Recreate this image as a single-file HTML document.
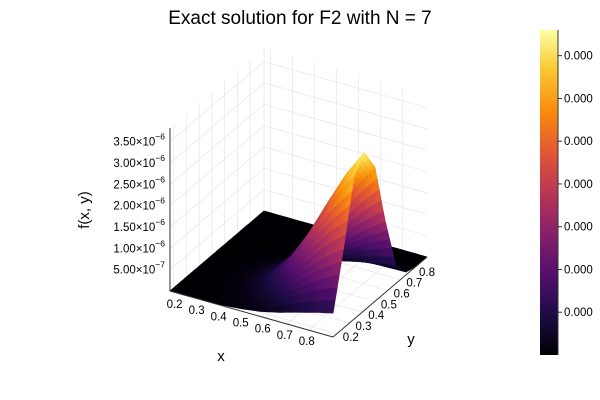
<!DOCTYPE html>
<html><head><meta charset="utf-8"><style>
html,body{margin:0;padding:0;background:#fff;}
svg{display:block;font-family:"Liberation Sans","DejaVu Sans",sans-serif;}
</style></head><body>
<svg id="chart" width="600" height="400" viewBox="0 0 600 400">
<text x="300" y="24" text-anchor="middle" font-size="19" fill="#000">Exact solution for F2 with N = 7</text>
<g id="grid"></g>
<g id="surf"></g>
<g id="axes"></g>
<text x="221" y="361" text-anchor="middle" font-size="15">x</text>
<text x="411" y="344" text-anchor="middle" font-size="15">y</text>
<text transform="translate(89,210) rotate(-90)" text-anchor="middle" font-size="15">f(x, y)</text>
<g id="cbar"></g>
</svg>
<script>
// ---- data ----
const xVals = [0.17,0.252,0.334,0.416,0.499,0.581,0.663,0.745,0.828,0.91];
const yVals = [0.17,0.252,0.334,0.416,0.499,0.581,0.663,0.745,0.828,0.91];
// z values in units of 1e-7, rows indexed by x, columns by y
const zRows = [
 [0,0,0,0,0,0,0,0,0,0],
 [0,0,0,0,0,0,0,0,0,0],
 [0.1,0.2,0.3,0.4,0.3,0.2,0,0,0,0],
 [0.2,0.7,1.3,1.5,1.3,0.7,0.2,0,0,0],
 [0.6,1.9,3.3,3.7,3.1,1.7,0.4,0.1,0,0],
 [1.2,4.1,7.3,8.1,6.9,3.7,1.0,0.2,0,0],
 [2.2,7.4,13.3,14.8,12.6,6.7,1.8,0.3,0,0],
 [3.4,11.5,20.6,22.9,19.5,10.3,2.8,0.5,0,0],
 [4.6,15.4,27.6,30.7,26.1,13.8,3.7,0.6,0,0],
 [5.6,18.5,33.3,37.0,31.5,16.7,4.4,0.7,0,0]
];
const xTicks = [0.2,0.3,0.4,0.5,0.6,0.7,0.8];
const yTicks = [0.2,0.3,0.4,0.5,0.6,0.7,0.8];
const zTicks = [5e-7,1e-6,1.5e-6,2e-6,2.5e-6,3e-6,3.5e-6];
const zTickLabels = ["5.00","1.00","1.50","2.00","2.50","3.00","3.50"];
const zTickExp = ["−7","−6","−6","−6","−6","−6","−6"];
const cbarTicks = [0.5,1.0,1.5,2.0,2.5,3.0,3.5];
const cbarLabels = ["0.000","0.000","0.000","0.000","0.000","0.000","0.000"];

// ---- projection ----
const X0=0.17,X1=0.91,Y0=0.17,Y1=0.91,Z1=3.82e-6;
const O=[170,291], VX=[163,46], VY=[94,-80], VZ=163;
function P(x,y,z){const tx=(x-X0)/(X1-X0),ty=(y-Y0)/(Y1-Y0),tz=z/Z1;
 return [O[0]+tx*VX[0]+ty*VY[0], O[1]+tx*VX[1]+ty*VY[1]-tz*VZ];}
const NS="http://www.w3.org/2000/svg";
function el(tag,attrs,parent){const e=document.createElementNS(NS,tag);for(const k in attrs)e.setAttribute(k,attrs[k]);parent.appendChild(e);return e;}

// inferno
const inf=[[0,0,0,4],[0.13,31,12,72],[0.25,85,15,109],[0.38,136,34,106],[0.5,186,54,85],[0.63,227,89,51],[0.75,249,140,10],[0.88,249,201,50],[1,252,255,164]];
function cmap(t){t=Math.max(0,Math.min(1,t));for(let i=1;i<inf.length;i++){if(t<=inf[i][0]){const a=inf[i-1],b=inf[i],f=(t-a[0])/(b[0]-a[0]);
 return `rgb(${Math.round(a[1]+f*(b[1]-a[1]))},${Math.round(a[2]+f*(b[2]-a[2]))},${Math.round(a[3]+f*(b[3]-a[3]))})`;}}return "rgb(252,255,164)";}

// ---- grid ----
const grid=document.getElementById('grid');
function gl(a,b){const l=el('line',{x1:a[0],y1:a[1],x2:b[0],y2:b[1],stroke:'#e6e6e6','stroke-width':0.7},grid);
 
 }
for(const z of zTicks){gl(P(X0,Y0,z),P(X0,Y1,z));gl(P(X0,Y1,z),P(X1,Y1,z));}
for(const y of yTicks){gl(P(X0,y,0),P(X0,y,Z1));gl(P(X0,y,0),P(X1,y,0));}
for(const x of xTicks){gl(P(x,Y1,0),P(x,Y1,Z1));gl(P(x,Y0,0),P(x,Y1,0));}
gl(P(X0,Y1,0),P(X0,Y1,Z1));

// ---- surface ----
const surf=document.getElementById('surf');
const S=5, quads=[];
function zAt(fi,fj){const i=Math.min(Math.floor(fi),xVals.length-2),j=Math.min(Math.floor(fj),yVals.length-2);const a=fi-i,b=fj-j;
 return (zRows[i][j]*(1-a)*(1-b)+zRows[i+1][j]*a*(1-b)+zRows[i][j+1]*(1-a)*b+zRows[i+1][j+1]*a*b)*1e-7;}
function xAt(fi){const i=Math.min(Math.floor(fi),xVals.length-2),a=fi-i;return xVals[i]*(1-a)+xVals[i+1]*a;}
function yAt(fj){const j=Math.min(Math.floor(fj),yVals.length-2),a=fj-j;return yVals[j]*(1-a)+yVals[j+1]*a;}
const N=(xVals.length-1)*S, M=(yVals.length-1)*S;
for(let i=0;i<N;i++)for(let j=0;j<M;j++){
 const c=[[i,j],[i+1,j],[i+1,j+1],[i,j+1]].map(([a,b])=>{const fi=a/S,fj=b/S;return {x:xAt(fi),y:yAt(fj),z:zAt(fi,fj)};});
 const pts=c.map(p=>P(p.x,p.y,p.z));
 const zm=c.reduce((s,p)=>s+p.z,0)/4;
 const fc=P((c[0].x+c[2].x)/2,(c[0].y+c[2].y)/2,0);
 quads.push({pts,zm,depth:fc[1]});
}
quads.sort((a,b)=>a.depth-b.depth);
for(const q of quads){const col=cmap(q.zm/Z1);
 const p=el('polygon',{points:q.pts.map(p=>p[0].toFixed(1)+','+p[1].toFixed(1)).join(' '),fill:col,stroke:col,'stroke-width':0.8,'stroke-linejoin':'round'},surf);
 
 }

// ---- axes ----
const ax=document.getElementById('axes');
function axl(a,b,name){const l=el('line',{x1:a[0],y1:a[1],x2:b[0],y2:b[1],stroke:'#333','stroke-width':1},ax);
 
 }
axl(P(X0,Y0,0),P(X0,Y0,Z1),'z-axis-line');
axl(P(X0,Y0,0),P(X1,Y0,0),'x-axis-line');
axl(P(X1,Y0,0),P(X1,Y1,0),'y-axis-line');
xTicks.forEach(v=>{const p=P(v,Y0,0);const t=el('text',{x:p[0]-2,y:p[1]+15,'text-anchor':'middle','font-size':11.5},ax);t.textContent=v.toFixed(1);
 
 });
yTicks.forEach(v=>{const p=P(X1,v,0);const t=el('text',{x:p[0]+14,y:p[1]+7,'text-anchor':'middle','font-size':11.5},ax);t.textContent=v.toFixed(1);
 
 });
zTicks.forEach((v,k)=>{const p=P(X0,Y0,v);
 const t=el('text',{x:p[0]-5,y:p[1]+4,'text-anchor':'end','font-size':11.5},ax);
 
 
 const a=el('tspan',{},t);a.textContent=zTickLabels[k]+'×10';
 const b=el('tspan',{dy:-6,'font-size':8.5},t);b.textContent=zTickExp[k];});

// ---- colorbar ----
const cb=document.getElementById('cbar');
const CB={x:540,w:18,top:30,bot:355};
const defs=el('defs',{},cb);const lg=el('linearGradient',{id:'cg',x1:0,y1:1,x2:0,y2:0},defs);
inf.forEach(s=>el('stop',{offset:s[0],'stop-color':`rgb(${s[1]},${s[2]},${s[3]})`},lg));
const r=el('rect',{x:CB.x,y:CB.top,width:CB.w,height:CB.bot-CB.top,fill:'url(#cg)'},cb);


const ln=el('line',{x1:CB.x+CB.w,y1:CB.top,x2:CB.x+CB.w,y2:CB.bot,stroke:'#333','stroke-width':1},cb);


const cbMax=3.8;
cbarTicks.forEach((v,k)=>{const y=CB.bot-v/cbMax*(CB.bot-CB.top);
 el('line',{x1:CB.x+CB.w,y1:y,x2:CB.x+CB.w+4,y2:y,stroke:'#333','stroke-width':1},cb);
 const t=el('text',{x:CB.x+CB.w+6,y:y+4,'font-size':11.5},cb);t.textContent=cbarLabels[k];
 
 });
</script>
</body></html>
